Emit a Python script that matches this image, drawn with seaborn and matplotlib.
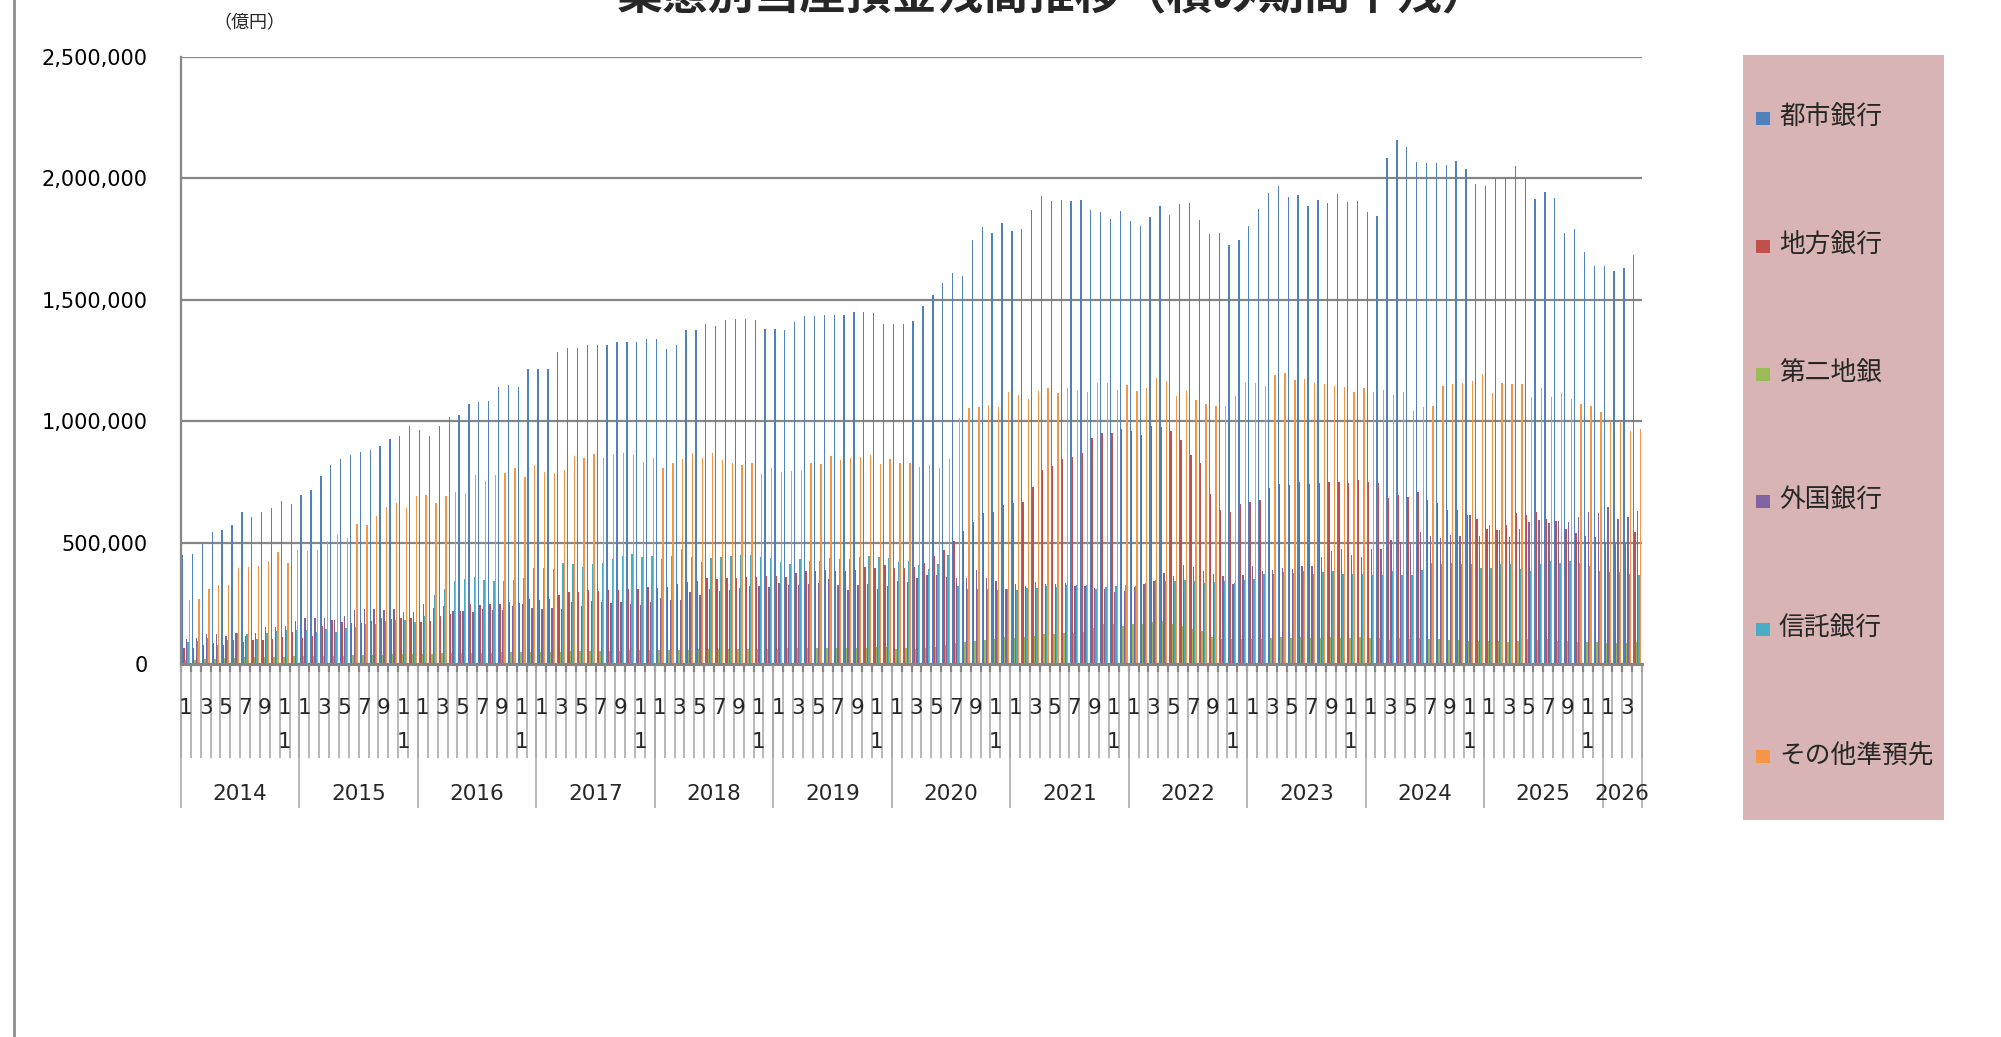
import numpy as np
import pandas as pd
import matplotlib
matplotlib.use('Agg')
import matplotlib.pyplot as plt
import seaborn as sns
from matplotlib.patches import Rectangle
from matplotlib.lines import Line2D
from matplotlib.ticker import FuncFormatter, MultipleLocator

# 業態別当座預金残高（積み期間平残、億円） 2014年1月〜2026年4月
years = [2014, 2015, 2016, 2017, 2018, 2019, 2020, 2021, 2022, 2023, 2024, 2025, 2026]
months_per_year = [12, 12, 12, 12, 12, 12, 12, 12, 12, 12, 12, 12, 4]

series_names = ['都市銀行', '地方銀行', '第二地銀', '外国銀行', '信託銀行', 'その他準預先']
series_colors = ['#4F81BD', '#C0504D', '#9BBB59', '#8064A2', '#4BACC6', '#F79646']

city_banks = [
    449000, 455000, 498000, 543000, 550000, 574000, 627000, 604000, 628000, 643000, 671000, 661000,
    697000, 715000, 774000, 819000, 845000, 860000, 873000, 880000, 896000, 925000, 940000, 982000,
    965000, 940000, 979000, 1018000, 1025000, 1069000, 1080000, 1084000, 1142000, 1149000, 1142000, 1214000,
    1214000, 1214000, 1284000, 1301000, 1301000, 1315000, 1314000, 1312000, 1325000, 1325000, 1325000, 1337000,
    1337000, 1297000, 1314000, 1376000, 1377000, 1399000, 1392000, 1415000, 1421000, 1421000, 1415000, 1379000,
    1379000, 1376000, 1407000, 1433000, 1433000, 1439000, 1439000, 1439000, 1448000, 1451000, 1444000, 1400000,
    1400000, 1399000, 1413000, 1475000, 1521000, 1570000, 1611000, 1598000, 1745000, 1798000, 1777000, 1815000,
    1784000, 1792000, 1869000, 1929000, 1905000, 1913000, 1908000, 1913000, 1870000, 1860000, 1831000, 1864000,
    1823000, 1805000, 1839000, 1888000, 1851000, 1893000, 1898000, 1828000, 1769000, 1777000, 1727000, 1746000,
    1805000, 1874000, 1940000, 1970000, 1924000, 1931000, 1888000, 1909000, 1898000, 1934000, 1901000, 1905000,
    1862000, 1846000, 2084000, 2159000, 2128000, 2066000, 2063000, 2063000, 2055000, 2073000, 2038000, 1975000,
    1970000, 2001000, 2001000, 2051000, 2001000, 1916000, 1942000, 1919000, 1777000, 1790000, 1697000, 1639000,
    1641000, 1619000, 1629000, 1683000,
]
regional_banks = [
    66000, 65000, 80000, 85000, 80000, 100000, 90000, 97000, 100000, 102000, 112000, 130000,
    109000, 116000, 157000, 181000, 172000, 168000, 168000, 176000, 188000, 185000, 188000, 190000,
    171000, 178000, 196000, 207000, 219000, 248000, 243000, 246000, 246000, 255000, 253000, 268000,
    263000, 266000, 286000, 295000, 295000, 304000, 300000, 304000, 304000, 310000, 308000, 318000,
    312000, 317000, 331000, 339000, 341000, 354000, 352000, 356000, 356000, 357000, 359000, 364000,
    362000, 357000, 375000, 382000, 385000, 388000, 385000, 385000, 388000, 398000, 395000, 406000,
    395000, 395000, 400000, 416000, 445000, 470000, 506000, 548000, 583000, 620000, 627000, 653000,
    663000, 669000, 731000, 800000, 814000, 845000, 852000, 868000, 929000, 950000, 953000, 969000,
    958000, 943000, 979000, 976000, 958000, 922000, 860000, 827000, 702000, 636000, 628000, 661000,
    667000, 676000, 725000, 741000, 736000, 751000, 741000, 746000, 751000, 751000, 746000, 759000,
    751000, 747000, 684000, 695000, 689000, 708000, 677000, 663000, 635000, 635000, 614000, 596000,
    557000, 550000, 574000, 620000, 612000, 627000, 596000, 589000, 557000, 540000, 527000, 522000,
    499000, 499000, 499000, 543000,
]
second_regional = [
    18000, 17000, 20000, 22000, 24000, 26000, 27000, 27000, 28000, 28000, 30000, 31000,
    31000, 32000, 33000, 34000, 35000, 36000, 37000, 38000, 39000, 40000, 41000, 42000,
    43000, 42000, 44000, 44000, 45000, 46000, 46000, 47000, 48000, 48000, 49000, 50000,
    50000, 51000, 51000, 52000, 53000, 53000, 54000, 55000, 55000, 56000, 56000, 57000,
    57000, 58000, 59000, 59000, 60000, 60000, 61000, 61000, 62000, 62000, 63000, 63000,
    63000, 64000, 64000, 65000, 65000, 66000, 66000, 66000, 67000, 67000, 68000, 68000,
    62000, 64000, 60000, 66000, 68000, 77000, 85000, 91000, 93000, 100000, 101000, 111000,
    108000, 111000, 114000, 122000, 124000, 127000, 129000, 131000, 150000, 163000, 165000, 158000,
    165000, 166000, 171000, 176000, 166000, 158000, 145000, 137000, 113000, 101000, 101000, 101000,
    103000, 103000, 109000, 113000, 109000, 110000, 108000, 109000, 110000, 108000, 109000, 110000,
    109000, 106000, 98000, 106000, 101000, 108000, 101000, 101000, 98000, 99000, 96000, 93000,
    93000, 93000, 90000, 93000, 101000, 99000, 101000, 96000, 93000, 90000, 90000, 90000,
    85000, 85000, 85000, 90000,
]
foreign_banks = [
    101000, 108000, 122000, 122000, 115000, 126000, 116000, 126000, 153000, 154000, 157000, 178000,
    191000, 191000, 191000, 183000, 199000, 222000, 225000, 228000, 222000, 228000, 214000, 214000,
    246000, 230000, 238000, 217000, 219000, 214000, 225000, 222000, 222000, 238000, 248000, 232000,
    225000, 230000, 225000, 255000, 240000, 259000, 255000, 250000, 255000, 246000, 241000, 256000,
    271000, 263000, 264000, 295000, 284000, 308000, 299000, 304000, 312000, 320000, 320000, 317000,
    333000, 325000, 326000, 328000, 333000, 352000, 325000, 304000, 325000, 328000, 308000, 320000,
    341000, 336000, 355000, 366000, 367000, 360000, 354000, 356000, 387000, 354000, 343000, 308000,
    330000, 320000, 339000, 331000, 330000, 333000, 323000, 322000, 312000, 308000, 295000, 300000,
    317000, 330000, 343000, 375000, 362000, 408000, 398000, 385000, 370000, 364000, 330000, 366000,
    403000, 385000, 387000, 395000, 390000, 403000, 403000, 442000, 465000, 472000, 449000, 441000,
    473000, 473000, 509000, 501000, 493000, 542000, 526000, 520000, 532000, 526000, 614000, 529000,
    574000, 553000, 522000, 557000, 586000, 592000, 581000, 588000, 583000, 605000, 627000, 620000,
    645000, 596000, 605000, 630000,
]
trust_banks = [
    91000, 94000, 106000, 78000, 98000, 127000, 122000, 101000, 129000, 137000, 142000, 140000,
    142000, 131000, 145000, 132000, 149000, 153000, 163000, 165000, 176000, 180000, 183000, 171000,
    199000, 284000, 308000, 341000, 349000, 357000, 344000, 341000, 341000, 346000, 354000, 395000,
    395000, 390000, 416000, 411000, 400000, 411000, 416000, 431000, 444000, 454000, 442000, 444000,
    432000, 444000, 473000, 439000, 419000, 436000, 439000, 444000, 449000, 449000, 442000, 436000,
    421000, 411000, 431000, 424000, 424000, 436000, 432000, 432000, 442000, 444000, 439000, 436000,
    421000, 424000, 408000, 392000, 411000, 450000, 322000, 310000, 310000, 310000, 304000, 310000,
    304000, 312000, 312000, 322000, 318000, 325000, 325000, 325000, 310000, 318000, 320000, 326000,
    323000, 333000, 346000, 343000, 343000, 346000, 343000, 333000, 338000, 341000, 333000, 346000,
    350000, 372000, 372000, 379000, 375000, 382000, 372000, 379000, 382000, 372000, 370000, 370000,
    366000, 366000, 382000, 366000, 366000, 387000, 416000, 411000, 415000, 411000, 410000, 395000,
    397000, 410000, 410000, 390000, 385000, 410000, 423000, 418000, 426000, 418000, 403000, 385000,
    379000, 379000, 372000, 366000,
]
other_quasi = [
    264000, 269000, 308000, 325000, 325000, 397000, 398000, 403000, 424000, 460000, 416000, 468000,
    465000, 468000, 506000, 532000, 521000, 578000, 574000, 610000, 646000, 664000, 643000, 692000,
    695000, 664000, 692000, 708000, 705000, 777000, 752000, 778000, 787000, 808000, 769000, 818000,
    792000, 787000, 800000, 855000, 849000, 865000, 849000, 862000, 870000, 862000, 831000, 849000,
    809000, 827000, 845000, 871000, 850000, 868000, 842000, 827000, 819000, 829000, 782000, 809000,
    792000, 796000, 796000, 827000, 824000, 855000, 842000, 849000, 852000, 860000, 824000, 845000,
    827000, 829000, 811000, 819000, 809000, 845000, 1015000, 1056000, 1058000, 1067000, 1059000, 1121000,
    1108000, 1093000, 1126000, 1136000, 1115000, 1136000, 1126000, 1121000, 1157000, 1159000, 1128000, 1149000,
    1126000, 1138000, 1178000, 1167000, 1105000, 1126000, 1089000, 1069000, 1061000, 1064000, 1102000, 1159000,
    1159000, 1147000, 1191000, 1198000, 1170000, 1172000, 1159000, 1152000, 1144000, 1141000, 1121000, 1136000,
    1121000, 1128000, 1108000, 1121000, 1040000, 1059000, 1064000, 1147000, 1154000, 1159000, 1167000, 1195000,
    1118000, 1159000, 1152000, 1152000, 1100000, 1136000, 1100000, 1118000, 1090000, 1072000, 1064000, 1036000,
    1000000, 1000000, 961000, 966000,
]

sns.set_style('white')
plt.rcParams['font.family'] = ['DejaVu Sans', 'Noto Sans CJK JP']

month_year = [y for y, n in zip(years, months_per_year) for m in range(n)]
month_num = [m + 1 for y, n in zip(years, months_per_year) for m in range(n)]
month_keys = [f'{y}-{m:02d}' for y, m in zip(month_year, month_num)]

wide = pd.DataFrame({'month': month_keys,
                     '都市銀行': city_banks, '地方銀行': regional_banks, '第二地銀': second_regional,
                     '外国銀行': foreign_banks, '信託銀行': trust_banks, 'その他準預先': other_quasi})
data = wide.melt(id_vars='month', var_name='series', value_name='value')

W, H = 2001, 1037
fig = plt.figure(figsize=(W / 100, H / 100), dpi=100)
ax_l, ax_r, ax_t, ax_b = 181, 1642, 57, 664
ax = fig.add_axes([ax_l / W, 1 - ax_b / H, (ax_r - ax_l) / W, (ax_b - ax_t) / H])

sns.barplot(data=data, x='month', y='value', hue='series', order=month_keys,
            hue_order=series_names, palette=series_colors, width=0.8, saturation=1,
            linewidth=0, errorbar=None, legend=False, ax=ax)

grey = '#868686'
n = len(month_keys)
ax.set_xlim(-0.5, n - 0.5)
ax.set_ylim(0, 2500000)
ax.yaxis.set_major_locator(MultipleLocator(500000))
ax.yaxis.set_major_formatter(FuncFormatter(lambda v, p: f'{int(v):,}'))
ax.yaxis.grid(True, color=grey, linewidth=1.6)
ax.set_axisbelow(True)
ax.set_xticks([])
ax.set_xlabel('')
ax.set_ylabel('')
ax.tick_params(axis='y', length=5, width=1.5, color=grey, pad=19, labelsize=15, labelcolor='black')
for s in ['top', 'right']:
    ax.spines[s].set_visible(False)
ax.spines['left'].set_color(grey)
ax.spines['left'].set_linewidth(1.6)
ax.spines['bottom'].set_color(grey)
ax.spines['bottom'].set_linewidth(2.2)

# multi-level category axis (month / year)
px = ax_b - ax_t
def ay(ypix):
    return (ax_b - ypix) / px

xt = ax.get_xaxis_transform()
bounds = np.arange(n + 1) - 0.5
ax.vlines(bounds, ay(758), 0, transform=xt, colors='#ABABAB', linewidth=1.2, clip_on=False)
ax.vlines(bounds, ay(672), 0, transform=xt, colors=grey, linewidth=1.6, clip_on=False)
starts = np.cumsum([0] + months_per_year)
ax.vlines(starts - 0.5, ay(808), 0, transform=xt, colors='#ABABAB', linewidth=1.2, clip_on=False)

for i, m in enumerate(month_num):
    if m % 2 == 1:
        ax.text(i, ay(708), str(m) if m < 10 else '1', transform=xt, ha='center', va='center',
                fontsize=15.5, clip_on=False)
        if m == 11:
            ax.text(i, ay(742), '1', transform=xt, ha='center', va='center', fontsize=15.5, clip_on=False)
for k, y in enumerate(years):
    mid = (starts[k] + starts[k + 1] - 1) / 2
    ax.text(mid, ay(794), str(y), transform=xt, ha='center', va='center', fontsize=15.5, clip_on=False)

# title (cut at top edge as in the original) and unit
fig.text(1053 / W, 1 - 9 / H, '業態別当座預金残高推移（積み期間平残）', ha='center', va='baseline',
         fontsize=33, fontweight='bold', family=['Noto Sans CJK JP', 'DejaVu Sans'])
fig.text(249 / W, 1 - 23 / H, '（億円）', ha='center', va='center', fontsize=13,
         family=['Noto Sans CJK JP', 'DejaVu Sans'])

# legend panel
fig.patches.append(Rectangle((1743 / W, 1 - 820 / H), 201 / W, 765 / H, transform=fig.transFigure,
                             facecolor='#D8B4B4', edgecolor='none', zorder=0))
entry_y = [118, 246, 374, 501, 629, 756]
for name, col, yy in zip(series_names, series_colors, entry_y):
    fig.patches.append(Rectangle((1756 / W, 1 - (yy + 7) / H), 14 / W, 13 / H, transform=fig.transFigure,
                                 facecolor=col, edgecolor='none'))
    fig.text(1779 / W, 1 - yy / H, name, ha='left', va='center', fontsize=18.5,
             family=['Noto Sans CJK JP', 'DejaVu Sans'])

# chart frame edge on the left
fig.add_artist(Line2D([14 / W, 14 / W], [0, 1], transform=fig.transFigure, color='#8C8C8C', linewidth=2))

fig.savefig('out.png', dpi=100)
